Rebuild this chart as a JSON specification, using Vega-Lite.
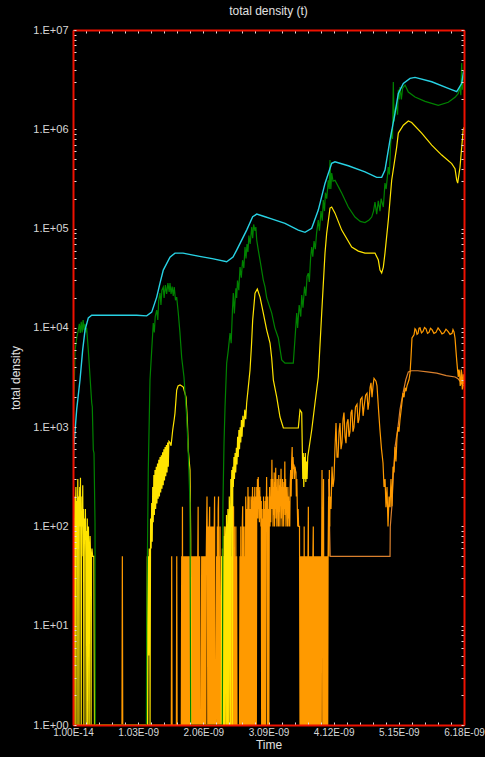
{
"$schema": "https://vega.github.io/schema/vega-lite/v6.json",
"autosize": {"type": "none"},
"width": 391, "height": 695,
"padding": {"left": 73, "top": 30, "right": 21, "bottom": 32},
"background": "#000000",
"title": {"text": "total density (t)", "color": "#e0e0e0", "fontSize": 12, "font": "Liberation Sans", "fontWeight": "normal", "offset": 6, "anchor": "middle"},
"config": {"view": {"stroke": null}},
"datasets": {
"cyan": [{"time":0,"density":1},{"time":0.003,"density":300},{"time":0.01,"density":600},{"time":0.058,"density":1500},{"time":0.111,"density":3000},{"time":0.153,"density":6000},{"time":0.19,"density":9500},{"time":0.242,"density":12600},{"time":0.296,"density":13400},{"time":1.007,"density":13400},{"time":1.165,"density":13200},{"time":1.244,"density":14400},{"time":1.323,"density":20400},{"time":1.375,"density":28200},{"time":1.427,"density":38200},{"time":1.533,"density":51600},{"time":1.612,"density":56600},{"time":1.739,"density":56600},{"time":2.0,"density":52500},{"time":2.2,"density":49800},{"time":2.429,"density":46300},{"time":2.529,"density":51600},{"time":2.587,"density":60700},{"time":2.745,"density":96500},{"time":2.84,"density":131500},{"time":2.904,"density":140000},{"time":3.035,"density":131500},{"time":3.114,"density":126700},{"time":3.351,"density":112700},{"time":3.561,"density":96500},{"time":3.667,"density":91600},{"time":3.773,"density":100500},{"time":3.877,"density":153500},{"time":3.983,"density":285000},{"time":4.089,"density":454000},{"time":4.141,"density":471000},{"time":4.351,"density":429000},{"time":4.615,"density":373000},{"time":4.8,"density":328000},{"time":4.879,"density":328000},{"time":4.931,"density":388000},{"time":5.01,"density":778000},{"time":5.089,"density":1445000},{"time":5.142,"density":2300000},{"time":5.221,"density":2900000},{"time":5.327,"density":3260000},{"time":5.406,"density":3330000},{"time":5.67,"density":3010000},{"time":5.932,"density":2580000},{"time":6.065,"density":2390000},{"time":6.144,"density":2900000},{"time":6.169,"density":3660000},{"time":6.18,"density":3900000}],
"green": [{"time":0,"density":1},{"time":0.005,"density":1000},{"time":0.032,"density":5970},{"time":0.06,"density":8000},{"time":0.084,"density":9500},{"time":0.1,"density":11000},{"time":0.115,"density":8900},{"time":0.13,"density":11500},{"time":0.145,"density":9000},{"time":0.16,"density":12000},{"time":0.175,"density":9500},{"time":0.19,"density":11000},{"time":0.205,"density":9000},{"time":0.215,"density":10000},{"time":0.242,"density":5970},{"time":0.269,"density":3220},{"time":0.296,"density":1750},{"time":0.305,"density":1600},{"time":0.321,"density":588},{"time":0.332,"density":548},{"time":0.348,"density":108},{"time":0.352,"density":1},{"time":1.16,"density":1},{"time":1.165,"density":10},{"time":1.19,"density":370},{"time":1.217,"density":2980},{"time":1.244,"density":5970},{"time":1.269,"density":11200},{"time":1.285,"density":9000},{"time":1.3,"density":13000},{"time":1.323,"density":15100},{"time":1.34,"density":12000},{"time":1.355,"density":19000},{"time":1.375,"density":22400},{"time":1.39,"density":17000},{"time":1.405,"density":24000},{"time":1.427,"density":25700},{"time":1.44,"density":20000},{"time":1.46,"density":27000},{"time":1.48,"density":22000},{"time":1.5,"density":28200},{"time":1.52,"density":23000},{"time":1.533,"density":28200},{"time":1.55,"density":22000},{"time":1.567,"density":26000},{"time":1.585,"density":21000},{"time":1.6,"density":25700},{"time":1.62,"density":19000},{"time":1.639,"density":20400},{"time":1.664,"density":14100},{"time":1.69,"density":9000},{"time":1.718,"density":5000},{"time":1.754,"density":3200},{"time":1.797,"density":1265},{"time":1.822,"density":548},{"time":1.849,"density":172},{"time":1.86,"density":1},{"time":2.36,"density":1},{"time":2.37,"density":172},{"time":2.387,"density":692},{"time":2.403,"density":1594},{"time":2.429,"density":4420},{"time":2.455,"density":6000},{"time":2.482,"density":8870},{"time":2.5,"density":7000},{"time":2.52,"density":15000},{"time":2.534,"density":22400},{"time":2.55,"density":14000},{"time":2.56,"density":18000},{"time":2.575,"density":25000},{"time":2.587,"density":20000},{"time":2.6,"density":30000},{"time":2.62,"density":24000},{"time":2.64,"density":40900},{"time":2.66,"density":32000},{"time":2.68,"density":48000},{"time":2.7,"density":40000},{"time":2.719,"density":65200},{"time":2.735,"density":50000},{"time":2.75,"density":70000},{"time":2.765,"density":58000},{"time":2.78,"density":85000},{"time":2.8,"density":70000},{"time":2.825,"density":103600},{"time":2.84,"density":80000},{"time":2.855,"density":110000},{"time":2.877,"density":95000},{"time":2.89,"density":103600},{"time":2.904,"density":76500},{"time":2.93,"density":60000},{"time":2.956,"density":48200},{"time":3.008,"density":30300},{"time":3.035,"density":25900},{"time":3.062,"density":20000},{"time":3.141,"density":14100},{"time":3.19,"density":10000},{"time":3.245,"density":7910},{"time":3.299,"density":4750},{"time":3.351,"density":4420},{"time":3.482,"density":4420},{"time":3.51,"density":8000},{"time":3.536,"density":14100},{"time":3.55,"density":10000},{"time":3.575,"density":17000},{"time":3.6,"density":13000},{"time":3.615,"density":21400},{"time":3.635,"density":16000},{"time":3.66,"density":26000},{"time":3.68,"density":21000},{"time":3.7,"density":33000},{"time":3.719,"density":35600},{"time":3.735,"density":29000},{"time":3.755,"density":50000},{"time":3.773,"density":65200},{"time":3.79,"density":52000},{"time":3.81,"density":75000},{"time":3.83,"density":62000},{"time":3.85,"density":90000},{"time":3.877,"density":122000},{"time":3.895,"density":95000},{"time":3.92,"density":150000},{"time":3.94,"density":120000},{"time":3.956,"density":194000},{"time":3.975,"density":150000},{"time":3.99,"density":230000},{"time":4.01,"density":200000},{"time":4.035,"density":307000},{"time":4.05,"density":250000},{"time":4.062,"density":490000},{"time":4.075,"density":250000},{"time":4.089,"density":362000},{"time":4.11,"density":300000},{"time":4.141,"density":307000},{"time":4.2,"density":260000},{"time":4.247,"density":228000},{"time":4.351,"density":165000},{"time":4.457,"density":130600},{"time":4.54,"density":118000},{"time":4.615,"density":114800},{"time":4.68,"density":122000},{"time":4.721,"density":130600},{"time":4.75,"density":150000},{"time":4.773,"density":185000},{"time":4.8,"density":140000},{"time":4.825,"density":190000},{"time":4.852,"density":150000},{"time":4.87,"density":200000},{"time":4.905,"density":165000},{"time":4.931,"density":287000},{"time":4.95,"density":250000},{"time":4.984,"density":416000},{"time":5.0,"density":350000},{"time":5.02,"density":700000},{"time":5.037,"density":1000000},{"time":5.05,"density":800000},{"time":5.063,"density":2990000},{"time":5.075,"density":1200000},{"time":5.095,"density":1600000},{"time":5.116,"density":1700000},{"time":5.13,"density":1400000},{"time":5.142,"density":2500000},{"time":5.155,"density":2000000},{"time":5.168,"density":2660000},{"time":5.19,"density":2000000},{"time":5.21,"density":2600000},{"time":5.248,"density":2790000},{"time":5.3,"density":2370000},{"time":5.406,"density":2110000},{"time":5.564,"density":1910000},{"time":5.774,"density":1740000},{"time":5.932,"density":1870000},{"time":6.038,"density":2100000},{"time":6.09,"density":2300000},{"time":6.117,"density":2700000},{"time":6.13,"density":2200000},{"time":6.144,"density":4640000},{"time":6.155,"density":2500000},{"time":6.165,"density":3500000},{"time":6.18,"density":3130000}],
"yellow": [{"time":0,"density":1},{"time":0.005,"density":50},{"time":0.01,"density":1},{"time":0.016,"density":120},{"time":0.022,"density":50},{"time":0.028,"density":200},{"time":0.034,"density":1},{"time":0.04,"density":150},{"time":0.046,"density":250},{"time":0.052,"density":60},{"time":0.058,"density":180},{"time":0.064,"density":1},{"time":0.07,"density":120},{"time":0.076,"density":300},{"time":0.082,"density":60},{"time":0.088,"density":200},{"time":0.094,"density":1},{"time":0.1,"density":150},{"time":0.106,"density":250},{"time":0.112,"density":100},{"time":0.118,"density":310},{"time":0.124,"density":50},{"time":0.13,"density":1},{"time":0.136,"density":80},{"time":0.142,"density":200},{"time":0.148,"density":100},{"time":0.154,"density":260},{"time":0.16,"density":50},{"time":0.166,"density":150},{"time":0.172,"density":1},{"time":0.178,"density":50},{"time":0.184,"density":120},{"time":0.19,"density":80},{"time":0.196,"density":150},{"time":0.202,"density":50},{"time":0.208,"density":1},{"time":0.214,"density":90},{"time":0.22,"density":50},{"time":0.226,"density":120},{"time":0.232,"density":1},{"time":0.238,"density":50},{"time":0.244,"density":100},{"time":0.25,"density":60},{"time":0.256,"density":1},{"time":0.262,"density":50},{"time":0.27,"density":80},{"time":0.278,"density":50},{"time":0.286,"density":1},{"time":0.292,"density":50},{"time":0.3,"density":60},{"time":0.31,"density":50},{"time":0.33,"density":50},{"time":0.34,"density":1},{"time":1.165,"density":1},{"time":1.175,"density":50},{"time":1.181,"density":1},{"time":1.19,"density":50},{"time":1.196,"density":5},{"time":1.205,"density":60},{"time":1.212,"density":50},{"time":1.218,"density":1},{"time":1.226,"density":120},{"time":1.235,"density":60},{"time":1.244,"density":172},{"time":1.252,"density":70},{"time":1.26,"density":250},{"time":1.268,"density":110},{"time":1.278,"density":330},{"time":1.286,"density":130},{"time":1.296,"density":370},{"time":1.306,"density":150},{"time":1.316,"density":400},{"time":1.326,"density":170},{"time":1.336,"density":430},{"time":1.346,"density":190},{"time":1.356,"density":470},{"time":1.366,"density":200},{"time":1.376,"density":500},{"time":1.386,"density":220},{"time":1.396,"density":520},{"time":1.406,"density":240},{"time":1.416,"density":560},{"time":1.426,"density":260},{"time":1.436,"density":600},{"time":1.446,"density":290},{"time":1.456,"density":630},{"time":1.466,"density":320},{"time":1.476,"density":660},{"time":1.486,"density":350},{"time":1.496,"density":700},{"time":1.506,"density":400},{"time":1.516,"density":720},{"time":1.533,"density":700},{"time":1.55,"density":650},{"time":1.576,"density":935},{"time":1.6,"density":1200},{"time":1.612,"density":1385},{"time":1.639,"density":2365},{"time":1.66,"density":2600},{"time":1.692,"density":2655},{"time":1.72,"density":2600},{"time":1.743,"density":2535},{"time":1.786,"density":2010},{"time":1.807,"density":1180},{"time":1.822,"density":588},{"time":1.849,"density":370},{"time":1.86,"density":78},{"time":1.865,"density":1},{"time":2.345,"density":1},{"time":2.35,"density":50},{"time":2.356,"density":1},{"time":2.362,"density":60},{"time":2.368,"density":1},{"time":2.376,"density":50},{"time":2.382,"density":1},{"time":2.39,"density":80},{"time":2.396,"density":1},{"time":2.404,"density":100},{"time":2.41,"density":60},{"time":2.418,"density":1},{"time":2.426,"density":130},{"time":2.432,"density":70},{"time":2.44,"density":1},{"time":2.448,"density":150},{"time":2.456,"density":100},{"time":2.462,"density":1},{"time":2.47,"density":200},{"time":2.478,"density":120},{"time":2.486,"density":1},{"time":2.494,"density":300},{"time":2.502,"density":180},{"time":2.51,"density":370},{"time":2.518,"density":1},{"time":2.526,"density":400},{"time":2.534,"density":250},{"time":2.544,"density":500},{"time":2.552,"density":300},{"time":2.562,"density":550},{"time":2.572,"density":350},{"time":2.582,"density":620},{"time":2.592,"density":420},{"time":2.602,"density":800},{"time":2.612,"density":500},{"time":2.622,"density":935},{"time":2.632,"density":600},{"time":2.642,"density":1000},{"time":2.652,"density":700},{"time":2.662,"density":1180},{"time":2.672,"density":800},{"time":2.685,"density":1300},{"time":2.7,"density":1000},{"time":2.715,"density":1500},{"time":2.73,"density":1200},{"time":2.745,"density":1750},{"time":2.77,"density":2500},{"time":2.798,"density":3760},{"time":2.82,"density":6500},{"time":2.84,"density":12000},{"time":2.877,"density":22400},{"time":2.913,"density":24600},{"time":2.956,"density":20400},{"time":3.008,"density":14100},{"time":3.062,"density":9500},{"time":3.114,"density":7030},{"time":3.14,"density":5000},{"time":3.167,"density":2980},{"time":3.22,"density":2010},{"time":3.272,"density":1265},{"time":3.325,"density":980},{"time":3.561,"density":980},{"time":3.588,"density":1486},{"time":3.615,"density":1400},{"time":3.624,"density":630},{"time":3.632,"density":300},{"time":3.64,"density":550},{"time":3.648,"density":250},{"time":3.656,"density":500},{"time":3.664,"density":300},{"time":3.672,"density":550},{"time":3.68,"density":280},{"time":3.69,"density":450},{"time":3.7,"density":300},{"time":3.71,"density":500},{"time":3.719,"density":548},{"time":3.773,"density":935},{"time":3.825,"density":1750},{"time":3.877,"density":3200},{"time":3.931,"density":14100},{"time":3.983,"density":56600},{"time":4.01,"density":90100},{"time":4.062,"density":161000},{"time":4.089,"density":165000},{"time":4.141,"density":143000},{"time":4.247,"density":96500},{"time":4.405,"density":65200},{"time":4.51,"density":59300},{"time":4.615,"density":56600},{"time":4.773,"density":56600},{"time":4.826,"density":48200},{"time":4.852,"density":38200},{"time":4.879,"density":35700},{"time":4.905,"density":40900},{"time":4.931,"density":56600},{"time":4.984,"density":122000},{"time":5.037,"density":307000},{"time":5.116,"density":662000},{"time":5.142,"density":916000},{"time":5.221,"density":1100000},{"time":5.3,"density":1210000},{"time":5.353,"density":1170000},{"time":5.511,"density":916000},{"time":5.67,"density":693000},{"time":5.828,"density":550000},{"time":5.986,"density":451000},{"time":6.038,"density":401000},{"time":6.065,"density":307000},{"time":6.08,"density":287000},{"time":6.117,"density":416000},{"time":6.144,"density":662000},{"time":6.169,"density":1000000},{"time":6.18,"density":1050000}],
"orange2": [{"time":4.04,"density":300},{"time":4.055,"density":100},{"time":4.065,"density":50},{"time":5.011,"density":50},{"time":5.015,"density":100},{"time":5.04,"density":160},{"time":5.06,"density":300},{"time":5.09,"density":630},{"time":5.137,"density":1000},{"time":5.168,"density":1500},{"time":5.216,"density":2200},{"time":5.26,"density":3000},{"time":5.3,"density":3600},{"time":5.35,"density":3700},{"time":5.45,"density":3700},{"time":5.6,"density":3600},{"time":5.75,"density":3500},{"time":5.9,"density":3300},{"time":6.04,"density":3200},{"time":6.08,"density":3100},{"time":6.12,"density":2900},{"time":6.15,"density":2700},{"time":6.18,"density":2600}],
"orange": [{"time":0,"density":1},{"time":0.774,"density":1},{"time":0.78,"density":50},{"time":0.786,"density":1},{"time":1.554,"density":1},{"time":1.56,"density":50},{"time":1.566,"density":1},{"time":1.634,"density":1},{"time":1.64,"density":50},{"time":1.646,"density":1},{"time":1.712,"density":1},{"time":1.718,"density":50},{"time":1.724,"density":1},{"time":1.73,"density":158},{"time":1.736,"density":1},{"time":1.742,"density":50},{"time":1.748,"density":1},{"time":1.754,"density":50},{"time":1.76,"density":1},{"time":1.766,"density":50},{"time":1.772,"density":1},{"time":1.778,"density":50},{"time":1.784,"density":1},{"time":1.79,"density":50},{"time":1.796,"density":1},{"time":1.802,"density":50},{"time":1.808,"density":1},{"time":1.814,"density":50},{"time":1.82,"density":1},{"time":1.826,"density":50},{"time":1.832,"density":1},{"time":1.838,"density":50},{"time":1.844,"density":1},{"time":1.85,"density":50},{"time":1.856,"density":1},{"time":1.868,"density":1},{"time":1.876,"density":50},{"time":1.882,"density":1},{"time":1.888,"density":50},{"time":1.894,"density":1},{"time":1.9,"density":50},{"time":1.906,"density":1},{"time":1.912,"density":50},{"time":1.918,"density":1},{"time":1.924,"density":50},{"time":1.93,"density":1},{"time":1.936,"density":50},{"time":1.942,"density":1},{"time":1.948,"density":50},{"time":1.954,"density":1},{"time":1.96,"density":50},{"time":1.966,"density":1},{"time":1.972,"density":50},{"time":1.978,"density":158},{"time":1.984,"density":1},{"time":1.99,"density":50},{"time":1.996,"density":1},{"time":2.002,"density":50},{"time":2.008,"density":1},{"time":2.026,"density":1},{"time":2.034,"density":50},{"time":2.04,"density":1},{"time":2.046,"density":50},{"time":2.052,"density":1},{"time":2.058,"density":50},{"time":2.064,"density":1},{"time":2.07,"density":50},{"time":2.076,"density":1},{"time":2.082,"density":50},{"time":2.088,"density":1},{"time":2.094,"density":50},{"time":2.1,"density":1},{"time":2.106,"density":50},{"time":2.112,"density":100},{"time":2.118,"density":200},{"time":2.124,"density":50},{"time":2.13,"density":1},{"time":2.136,"density":100},{"time":2.142,"density":50},{"time":2.148,"density":1},{"time":2.154,"density":100},{"time":2.16,"density":158},{"time":2.166,"density":1},{"time":2.172,"density":100},{"time":2.178,"density":50},{"time":2.184,"density":1},{"time":2.19,"density":100},{"time":2.196,"density":1},{"time":2.202,"density":100},{"time":2.208,"density":50},{"time":2.214,"density":1},{"time":2.22,"density":100},{"time":2.226,"density":1},{"time":2.232,"density":100},{"time":2.238,"density":200},{"time":2.244,"density":1},{"time":2.256,"density":1},{"time":2.27,"density":50},{"time":2.276,"density":1},{"time":2.282,"density":100},{"time":2.288,"density":1},{"time":2.294,"density":150},{"time":2.3,"density":200},{"time":2.306,"density":1},{"time":2.312,"density":50},{"time":2.318,"density":1},{"time":2.324,"density":100},{"time":2.33,"density":1},{"time":2.35,"density":50},{"time":2.356,"density":1},{"time":2.37,"density":50},{"time":2.376,"density":1},{"time":2.39,"density":100},{"time":2.396,"density":1},{"time":2.42,"density":50},{"time":2.426,"density":1},{"time":2.45,"density":50},{"time":2.456,"density":1},{"time":2.48,"density":100},{"time":2.486,"density":1},{"time":2.5,"density":1},{"time":2.508,"density":50},{"time":2.514,"density":1},{"time":2.52,"density":100},{"time":2.526,"density":1},{"time":2.532,"density":50},{"time":2.538,"density":160},{"time":2.544,"density":1},{"time":2.55,"density":100},{"time":2.556,"density":1},{"time":2.562,"density":50},{"time":2.568,"density":1},{"time":2.574,"density":100},{"time":2.58,"density":1},{"time":2.586,"density":50},{"time":2.592,"density":1},{"time":2.632,"density":1},{"time":2.64,"density":50},{"time":2.646,"density":1},{"time":2.652,"density":100},{"time":2.658,"density":1},{"time":2.664,"density":50},{"time":2.67,"density":1},{"time":2.676,"density":100},{"time":2.682,"density":160},{"time":2.688,"density":1},{"time":2.694,"density":100},{"time":2.7,"density":1},{"time":2.706,"density":50},{"time":2.712,"density":1},{"time":2.718,"density":100},{"time":2.724,"density":1},{"time":2.73,"density":200},{"time":2.736,"density":100},{"time":2.742,"density":1},{"time":2.748,"density":150},{"time":2.754,"density":1},{"time":2.76,"density":100},{"time":2.766,"density":250},{"time":2.772,"density":1},{"time":2.778,"density":100},{"time":2.784,"density":200},{"time":2.79,"density":1},{"time":2.796,"density":150},{"time":2.802,"density":100},{"time":2.808,"density":1},{"time":2.814,"density":200},{"time":2.82,"density":120},{"time":2.826,"density":1},{"time":2.832,"density":150},{"time":2.838,"density":250},{"time":2.844,"density":1},{"time":2.85,"density":200},{"time":2.856,"density":100},{"time":2.862,"density":1},{"time":2.868,"density":150},{"time":2.874,"density":250},{"time":2.88,"density":1},{"time":2.886,"density":200},{"time":2.892,"density":100},{"time":2.898,"density":1},{"time":2.904,"density":250},{"time":2.91,"density":150},{"time":2.916,"density":300},{"time":2.922,"density":120},{"time":2.928,"density":315},{"time":2.934,"density":150},{"time":2.94,"density":230},{"time":2.946,"density":110},{"time":2.952,"density":250},{"time":2.958,"density":120},{"time":2.964,"density":200},{"time":2.97,"density":100},{"time":2.976,"density":180},{"time":2.982,"density":1},{"time":2.988,"density":150},{"time":2.994,"density":1},{"time":3.0,"density":120},{"time":3.006,"density":1},{"time":3.012,"density":200},{"time":3.018,"density":1},{"time":3.024,"density":150},{"time":3.03,"density":1},{"time":3.036,"density":180},{"time":3.042,"density":1},{"time":3.048,"density":200},{"time":3.054,"density":100},{"time":3.06,"density":314},{"time":3.066,"density":120},{"time":3.072,"density":1},{"time":3.078,"density":200},{"time":3.084,"density":1},{"time":3.09,"density":150},{"time":3.096,"density":1},{"time":3.102,"density":120},{"time":3.108,"density":250},{"time":3.114,"density":100},{"time":3.12,"density":200},{"time":3.126,"density":110},{"time":3.132,"density":300},{"time":3.138,"density":150},{"time":3.144,"density":470},{"time":3.15,"density":150},{"time":3.156,"density":300},{"time":3.162,"density":100},{"time":3.168,"density":250},{"time":3.174,"density":130},{"time":3.18,"density":350},{"time":3.186,"density":100},{"time":3.192,"density":280},{"time":3.198,"density":150},{"time":3.204,"density":390},{"time":3.21,"density":120},{"time":3.216,"density":250},{"time":3.222,"density":100},{"time":3.228,"density":300},{"time":3.234,"density":150},{"time":3.24,"density":200},{"time":3.246,"density":100},{"time":3.252,"density":330},{"time":3.258,"density":140},{"time":3.264,"density":260},{"time":3.27,"density":100},{"time":3.276,"density":300},{"time":3.282,"density":160},{"time":3.288,"density":380},{"time":3.294,"density":120},{"time":3.3,"density":250},{"time":3.306,"density":100},{"time":3.312,"density":300},{"time":3.318,"density":170},{"time":3.324,"density":250},{"time":3.33,"density":100},{"time":3.336,"density":280},{"time":3.342,"density":150},{"time":3.348,"density":450},{"time":3.354,"density":130},{"time":3.36,"density":300},{"time":3.366,"density":100},{"time":3.372,"density":250},{"time":3.378,"density":150},{"time":3.384,"density":200},{"time":3.39,"density":100},{"time":3.396,"density":250},{"time":3.402,"density":120},{"time":3.408,"density":200},{"time":3.414,"density":100},{"time":3.42,"density":180},{"time":3.426,"density":100},{"time":3.432,"density":250},{"time":3.44,"density":370},{"time":3.448,"density":200},{"time":3.456,"density":450},{"time":3.464,"density":630},{"time":3.47,"density":300},{"time":3.478,"density":500},{"time":3.486,"density":380},{"time":3.494,"density":420},{"time":3.5,"density":300},{"time":3.508,"density":400},{"time":3.516,"density":370},{"time":3.524,"density":350},{"time":3.53,"density":200},{"time":3.538,"density":300},{"time":3.546,"density":150},{"time":3.552,"density":100},{"time":3.558,"density":150},{"time":3.566,"density":100},{"time":3.58,"density":100},{"time":3.588,"density":1},{"time":3.594,"density":50},{"time":3.6,"density":1},{"time":3.606,"density":50},{"time":3.612,"density":1},{"time":3.618,"density":50},{"time":3.624,"density":1},{"time":3.63,"density":50},{"time":3.636,"density":1},{"time":3.642,"density":50},{"time":3.648,"density":1},{"time":3.654,"density":100},{"time":3.66,"density":1},{"time":3.666,"density":50},{"time":3.672,"density":1},{"time":3.678,"density":50},{"time":3.684,"density":1},{"time":3.69,"density":50},{"time":3.696,"density":1},{"time":3.702,"density":50},{"time":3.708,"density":1},{"time":3.714,"density":50},{"time":3.72,"density":158},{"time":3.726,"density":1},{"time":3.732,"density":50},{"time":3.738,"density":1},{"time":3.744,"density":50},{"time":3.75,"density":1},{"time":3.756,"density":50},{"time":3.762,"density":1},{"time":3.768,"density":50},{"time":3.774,"density":1},{"time":3.78,"density":50},{"time":3.786,"density":1},{"time":3.792,"density":50},{"time":3.798,"density":100},{"time":3.804,"density":1},{"time":3.81,"density":50},{"time":3.816,"density":1},{"time":3.822,"density":50},{"time":3.828,"density":1},{"time":3.834,"density":50},{"time":3.84,"density":1},{"time":3.846,"density":50},{"time":3.852,"density":1},{"time":3.858,"density":50},{"time":3.864,"density":1},{"time":3.87,"density":50},{"time":3.876,"density":1},{"time":3.882,"density":50},{"time":3.888,"density":1},{"time":3.894,"density":50},{"time":3.9,"density":1},{"time":3.906,"density":50},{"time":3.912,"density":1},{"time":3.918,"density":50},{"time":3.924,"density":1},{"time":3.93,"density":50},{"time":3.936,"density":370},{"time":3.942,"density":50},{"time":3.948,"density":1},{"time":3.954,"density":50},{"time":3.96,"density":300},{"time":3.966,"density":1},{"time":3.972,"density":50},{"time":3.978,"density":1},{"time":3.984,"density":50},{"time":3.99,"density":1},{"time":3.996,"density":50},{"time":4.002,"density":1},{"time":4.008,"density":50},{"time":4.014,"density":1},{"time":4.02,"density":50},{"time":4.026,"density":1},{"time":4.032,"density":50},{"time":4.04,"density":200},{"time":4.046,"density":50},{"time":4.052,"density":370},{"time":4.058,"density":100},{"time":4.062,"density":200},{"time":4.078,"density":150},{"time":4.094,"density":400},{"time":4.11,"density":250},{"time":4.125,"density":300},{"time":4.14,"density":600},{"time":4.157,"density":1100},{"time":4.173,"density":500},{"time":4.189,"density":500},{"time":4.205,"density":900},{"time":4.22,"density":1100},{"time":4.236,"density":600},{"time":4.252,"density":700},{"time":4.268,"density":1200},{"time":4.283,"density":1400},{"time":4.3,"density":800},{"time":4.315,"density":690},{"time":4.33,"density":1100},{"time":4.347,"density":1200},{"time":4.362,"density":800},{"time":4.378,"density":900},{"time":4.394,"density":1400},{"time":4.41,"density":1500},{"time":4.425,"density":900},{"time":4.441,"density":1000},{"time":4.465,"density":1600},{"time":4.489,"density":1700},{"time":4.505,"density":1100},{"time":4.52,"density":1200},{"time":4.545,"density":1900},{"time":4.568,"density":2000},{"time":4.585,"density":1300},{"time":4.6,"density":1600},{"time":4.625,"density":2100},{"time":4.647,"density":2200},{"time":4.663,"density":1500},{"time":4.679,"density":1800},{"time":4.695,"density":2500},{"time":4.71,"density":2800},{"time":4.726,"density":2000},{"time":4.742,"density":2600},{"time":4.758,"density":3100},{"time":4.774,"density":3000},{"time":4.789,"density":2900},{"time":4.805,"density":2600},{"time":4.829,"density":1500},{"time":4.852,"density":930},{"time":4.876,"density":600},{"time":4.9,"density":435},{"time":4.916,"density":250},{"time":4.932,"density":300},{"time":4.947,"density":156},{"time":4.963,"density":250},{"time":4.979,"density":100},{"time":4.995,"density":200},{"time":5.011,"density":156},{"time":5.026,"density":300},{"time":5.042,"density":160},{"time":5.058,"density":400},{"time":5.074,"density":350},{"time":5.09,"density":630},{"time":5.105,"density":450},{"time":5.121,"density":800},{"time":5.137,"density":1000},{"time":5.152,"density":900},{"time":5.168,"density":1180},{"time":5.192,"density":1600},{"time":5.216,"density":2200},{"time":5.232,"density":2000},{"time":5.248,"density":2500},{"time":5.264,"density":2300},{"time":5.279,"density":2600},{"time":5.295,"density":2800},{"time":5.311,"density":3000},{"time":5.327,"density":3500},{"time":5.342,"density":5000},{"time":5.358,"density":7900},{"time":5.374,"density":8200},{"time":5.39,"density":8500},{"time":5.405,"density":9800},{"time":5.421,"density":9500},{"time":5.437,"density":8600},{"time":5.453,"density":8800},{"time":5.469,"density":9900},{"time":5.485,"density":10000},{"time":5.508,"density":8900},{"time":5.532,"density":9200},{"time":5.556,"density":10100},{"time":5.58,"density":9800},{"time":5.603,"density":8800},{"time":5.627,"density":9000},{"time":5.65,"density":9900},{"time":5.674,"density":9600},{"time":5.705,"density":8800},{"time":5.737,"density":9000},{"time":5.77,"density":10000},{"time":5.801,"density":9400},{"time":5.832,"density":8700},{"time":5.864,"density":8900},{"time":5.895,"density":9700},{"time":5.927,"density":9200},{"time":5.96,"density":8600},{"time":5.991,"density":8800},{"time":6.006,"density":9600},{"time":6.022,"density":9100},{"time":6.038,"density":7900},{"time":6.052,"density":6000},{"time":6.065,"density":4700},{"time":6.078,"density":3800},{"time":6.09,"density":3200},{"time":6.1,"density":3800},{"time":6.109,"density":3600},{"time":6.12,"density":2600},{"time":6.129,"density":2800},{"time":6.137,"density":3800},{"time":6.145,"density":3500},{"time":6.153,"density":2400},{"time":6.161,"density":2500},{"time":6.168,"density":3400},{"time":6.176,"density":3000},{"time":6.18,"density":2700}]
},
"layer": [
{"data": {"name": "orange2"}, "mark": {"type": "line", "color": "#d9802e", "strokeWidth": 1.2, "clip": true},
 "encoding": {
  "x": {"field": "time", "type": "quantitative", "scale": {"domain": [0, 6.18], "nice": false, "zero": false},
   "axis": {"orient": "bottom", "values": [0,0.206,0.412,0.618,0.824,1.03,1.236,1.442,1.648,1.854,2.06,2.266,2.472,2.678,2.884,3.09,3.296,3.502,3.708,3.914,4.12,4.326,4.532,4.738,4.944,5.15,5.356,5.562,5.768,5.974,6.18],
    "labelExpr": "round(datum.value*1000) % 1030 == 0 ? (datum.value == 0 ? '1.00E-14' : format(datum.value, '.2f') + 'E-09') : ''",
    "labelOverlap": false, "labelBound": false, "labelFlush": false, "labelFont": "Liberation Sans", "labelFontSize": 10, "labelColor": "#d8d8d8", "labelPadding": 5,
    "domainColor": "#ee1100", "domainWidth": 2, "tickColor": "#e0e0e0", "tickSize": -3, "tickWidth": 1, "grid": false,
    "title": "Time", "titleFont": "Liberation Sans", "titleFontSize": 12, "titleFontWeight": "normal", "titleColor": "#e0e0e0", "titlePadding": 2, "zindex": 1}},
  "y": {"field": "density", "type": "quantitative", "scale": {"type": "log", "domain": [1, 10000000], "nice": false},
   "axis": {"orient": "left", "values": [1,2,3,4,5,6,7,8,9,10,20,30,40,50,60,70,80,90,100,200,300,400,500,600,700,800,900,1000,2000,3000,4000,5000,6000,7000,8000,9000,10000,20000,30000,40000,50000,60000,70000,80000,90000,100000,200000,300000,400000,500000,600000,700000,800000,900000,1000000,2000000,3000000,4000000,5000000,6000000,7000000,8000000,9000000,10000000],
    "labelExpr": "abs(log(datum.value)/LN10 - round(log(datum.value)/LN10)) < 0.01 ? '1.E+0' + round(log(datum.value)/LN10) : ''",
    "labelOverlap": false, "labelBound": false, "labelFlush": false, "labelFont": "Liberation Sans", "labelFontSize": 11, "labelColor": "#d8d8d8", "labelPadding": 8,
    "domainColor": "#ee1100", "domainWidth": 2, "tickColor": "#e0e0e0", "tickSize": -3, "tickWidth": 1, "grid": false,
    "title": "total density", "titleFont": "Liberation Sans", "titleFontSize": 12, "titleFontWeight": "normal", "titleColor": "#e0e0e0", "titlePadding": 10, "zindex": 1}}
 }},
{"data": {"name": "orange"}, "mark": {"type": "line", "color": "#ff9a00", "strokeWidth": 1.2, "clip": true},
 "encoding": {"x": {"field": "time", "type": "quantitative", "axis": null}, "y": {"field": "density", "type": "quantitative", "axis": null}}},
{"data": {"name": "yellow"}, "mark": {"type": "line", "color": "#ffe400", "strokeWidth": 1.2, "clip": true},
 "encoding": {"x": {"field": "time", "type": "quantitative", "axis": null}, "y": {"field": "density", "type": "quantitative", "axis": null}}},
{"data": {"name": "green"}, "mark": {"type": "line", "color": "#008200", "strokeWidth": 1.2, "clip": true},
 "encoding": {"x": {"field": "time", "type": "quantitative", "axis": null}, "y": {"field": "density", "type": "quantitative", "axis": null}}},
{"data": {"name": "cyan"}, "mark": {"type": "line", "color": "#28d2e4", "strokeWidth": 1.4, "clip": true},
 "encoding": {
  "x": {"field": "time", "type": "quantitative",
   "axis": {"orient": "top", "values": [0,0.206,0.412,0.618,0.824,1.03,1.236,1.442,1.648,1.854,2.06,2.266,2.472,2.678,2.884,3.09,3.296,3.502,3.708,3.914,4.12,4.326,4.532,4.738,4.944,5.15,5.356,5.562,5.768,5.974,6.18],
    "labels": false, "title": null, "domainColor": "#ee1100", "domainWidth": 2, "tickColor": "#e0e0e0", "tickSize": -3, "grid": false, "zindex": 1}},
  "y": {"field": "density", "type": "quantitative",
   "axis": {"orient": "right", "values": [1,2,3,4,5,6,7,8,9,10,20,30,40,50,60,70,80,90,100,200,300,400,500,600,700,800,900,1000,2000,3000,4000,5000,6000,7000,8000,9000,10000,20000,30000,40000,50000,60000,70000,80000,90000,100000,200000,300000,400000,500000,600000,700000,800000,900000,1000000,2000000,3000000,4000000,5000000,6000000,7000000,8000000,9000000,10000000],
    "labels": false, "title": null, "domainColor": "#ee1100", "domainWidth": 2, "tickColor": "#e0e0e0", "tickSize": -3, "grid": false, "zindex": 1}}
 }}
],
"resolve": {"axis": {"x": "independent", "y": "independent"}}
}
